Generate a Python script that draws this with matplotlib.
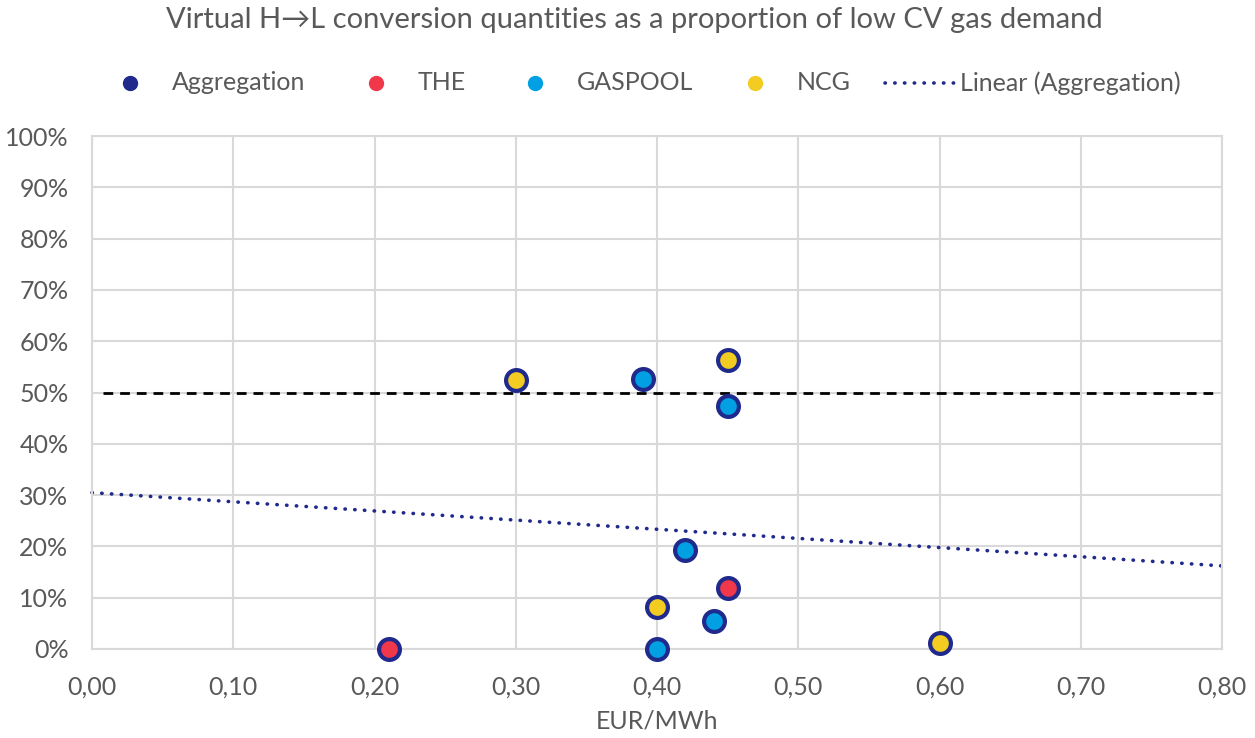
import matplotlib
matplotlib.use("Agg")
import matplotlib.pyplot as plt
import numpy as np

plt.rcParams['font.family'] = ['Lato', 'DejaVu Sans']

# Data
the_x = [0.21, 0.45]
the_y = [0.0, 11.9]
gaspool_x = [0.39, 0.45, 0.42, 0.44, 0.40]
gaspool_y = [52.6, 47.4, 19.3, 5.5, 0.0]
ncg_x = [0.30, 0.45, 0.40, 0.60]
ncg_y = [52.4, 56.3, 8.2, 1.2]
ref_x = [0.008, 0.797]
ref_y = [50, 50]

x_ticks = [0.0, 0.1, 0.2, 0.3, 0.4, 0.5, 0.6, 0.7, 0.8]
y_ticks = [0, 10, 20, 30, 40, 50, 60, 70, 80, 90, 100]
legend_labels = ['Aggregation', 'THE', 'GASPOOL', 'NCG', 'Linear (Aggregation)']

NAVY = '#1F2A8C'
RED = '#F0384A'
BLUE = '#00A0E3'
YELLOW = '#F2CC21'
TXT = '#595959'
GRID = '#D9D9D9'

agg_x = np.array(the_x + gaspool_x + ncg_x)
agg_y = np.array(the_y + gaspool_y + ncg_y)
slope, intercept = np.polyfit(agg_x, agg_y, 1)

W, H = 1255, 738
fig = plt.figure(figsize=(W / 100, H / 100), dpi=100)
ax = fig.add_axes([92 / W, 1 - 649 / H, (1222 - 92) / W, (649 - 136) / H])

ax.set_xlim(0, 0.8)
ax.set_ylim(0, 100)
ax.set_xticks(x_ticks)
ax.set_yticks(y_ticks)
ax.set_xticklabels([f"{v:.2f}".replace('.', ',') for v in x_ticks])
ax.set_yticklabels([f"{v}%" for v in y_ticks])
ax.tick_params(axis='both', length=0, labelsize=18, colors=TXT)
ax.tick_params(axis='y', pad=17)
ax.tick_params(axis='x', pad=19)
ax.grid(True, color=GRID, linewidth=1.5)
ax.set_axisbelow(True)
for s in ax.spines.values():
    s.set_color(GRID)
    s.set_linewidth(1.5)

# reference line at 50%
ax.plot(ref_x, ref_y, color='black', linestyle=(0, (3.5, 2.5)), linewidth=2, zorder=2)

# linear trendline of aggregation
tx = np.array([0.0, 0.8])
ax.plot(tx, intercept + slope * tx, color=NAVY, linestyle=(0, (0.1, 2.6)), linewidth=2.6,
        dash_capstyle='round', zorder=2, clip_on=False)

ms = 225
lw = 3.0
ax.scatter(the_x, the_y, s=ms, facecolor=RED, edgecolor=NAVY, linewidth=lw, zorder=5, clip_on=False)
ax.scatter(gaspool_x, gaspool_y, s=ms, facecolor=BLUE, edgecolor=NAVY, linewidth=lw, zorder=5, clip_on=False)
ax.scatter(ncg_x, ncg_y, s=ms, facecolor=YELLOW, edgecolor=NAVY, linewidth=lw, zorder=5, clip_on=False)

ax.set_xlabel('EUR/MWh', fontsize=18, color=TXT, labelpad=8)

fig.text(634 / W, 1 - 20 / H, 'Virtual H\u2192L conversion quantities as a proportion of low CV gas demand',
         ha='center', va='center', fontsize=21, color=TXT)

# Legend drawn in a pixel-space overlay
lax = fig.add_axes([0, 0, 1, 1], zorder=10)
lax.set_xlim(0, W)
lax.set_ylim(H, 0)
lax.axis('off')
ly = 83
text_x = [172, 418, 577, 797, 960]
colors = [NAVY, RED, BLUE, YELLOW]
for tx_, c in zip(text_x[:4], colors):
    lax.plot([tx_ - 42], [ly], marker='o', markersize=10, color=c, linestyle='None')
lax.plot([885, 955], [ly, ly], color=NAVY, linestyle=(0, (0.1, 2.6)), linewidth=2.6, dash_capstyle='round')
for tx_, lab in zip(text_x, legend_labels):
    lax.text(tx_, ly, lab, fontsize=18, color=TXT, ha='left', va='center')

fig.savefig('out.png', dpi=100)
